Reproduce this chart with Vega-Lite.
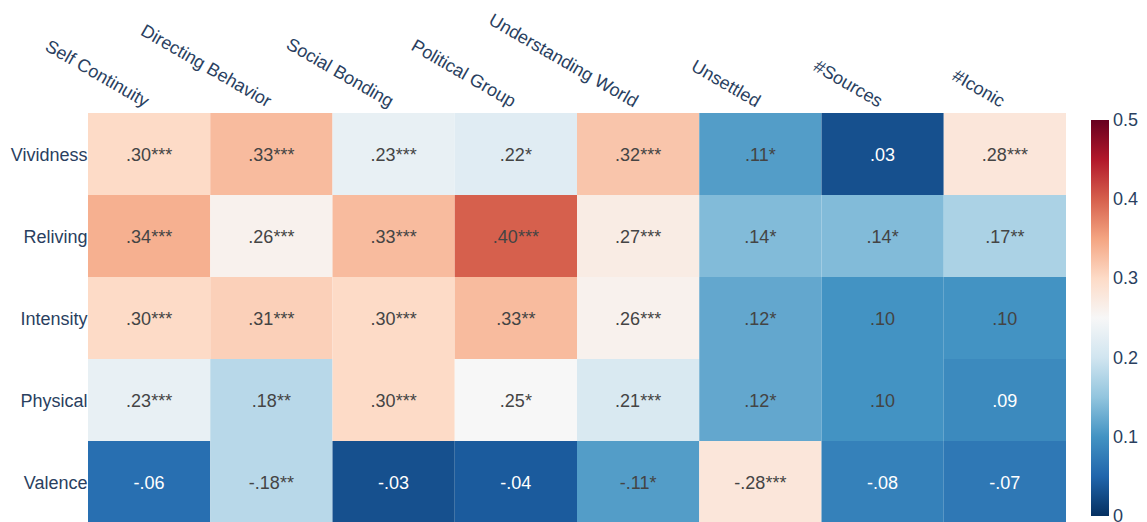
{
  "$schema": "https://vega.github.io/schema/vega-lite/v6.json",
  "autosize": "none",
  "width": 978,
  "height": 410,
  "padding": {"left": 88, "top": 113, "right": 81, "bottom": 0},
  "background": "white",
  "config": {
    "view": {"stroke": null},
    "font": "Liberation Sans"
  },
  "data": {
    "values": [
      {"row": "Vividness", "col": "Self Continuity", "r": 0.30, "strength": 0.30, "label": ".30***"},
      {"row": "Vividness", "col": "Directing Behavior", "r": 0.33, "strength": 0.33, "label": ".33***"},
      {"row": "Vividness", "col": "Social Bonding", "r": 0.23, "strength": 0.23, "label": ".23***"},
      {"row": "Vividness", "col": "Political Group", "r": 0.22, "strength": 0.22, "label": ".22*"},
      {"row": "Vividness", "col": "Understanding World", "r": 0.32, "strength": 0.32, "label": ".32***"},
      {"row": "Vividness", "col": "Unsettled", "r": 0.11, "strength": 0.11, "label": ".11*"},
      {"row": "Vividness", "col": "#Sources", "r": 0.03, "strength": 0.03, "label": ".03"},
      {"row": "Vividness", "col": "#Iconic", "r": 0.28, "strength": 0.28, "label": ".28***"},

      {"row": "Reliving", "col": "Self Continuity", "r": 0.34, "strength": 0.34, "label": ".34***"},
      {"row": "Reliving", "col": "Directing Behavior", "r": 0.26, "strength": 0.26, "label": ".26***"},
      {"row": "Reliving", "col": "Social Bonding", "r": 0.33, "strength": 0.33, "label": ".33***"},
      {"row": "Reliving", "col": "Political Group", "r": 0.40, "strength": 0.40, "label": ".40***"},
      {"row": "Reliving", "col": "Understanding World", "r": 0.27, "strength": 0.27, "label": ".27***"},
      {"row": "Reliving", "col": "Unsettled", "r": 0.14, "strength": 0.14, "label": ".14*"},
      {"row": "Reliving", "col": "#Sources", "r": 0.14, "strength": 0.14, "label": ".14*"},
      {"row": "Reliving", "col": "#Iconic", "r": 0.17, "strength": 0.17, "label": ".17**"},

      {"row": "Intensity", "col": "Self Continuity", "r": 0.30, "strength": 0.30, "label": ".30***"},
      {"row": "Intensity", "col": "Directing Behavior", "r": 0.31, "strength": 0.31, "label": ".31***"},
      {"row": "Intensity", "col": "Social Bonding", "r": 0.30, "strength": 0.30, "label": ".30***"},
      {"row": "Intensity", "col": "Political Group", "r": 0.33, "strength": 0.33, "label": ".33**"},
      {"row": "Intensity", "col": "Understanding World", "r": 0.26, "strength": 0.26, "label": ".26***"},
      {"row": "Intensity", "col": "Unsettled", "r": 0.12, "strength": 0.12, "label": ".12*"},
      {"row": "Intensity", "col": "#Sources", "r": 0.10, "strength": 0.10, "label": ".10"},
      {"row": "Intensity", "col": "#Iconic", "r": 0.10, "strength": 0.10, "label": ".10"},

      {"row": "Physical", "col": "Self Continuity", "r": 0.23, "strength": 0.23, "label": ".23***"},
      {"row": "Physical", "col": "Directing Behavior", "r": 0.18, "strength": 0.18, "label": ".18**"},
      {"row": "Physical", "col": "Social Bonding", "r": 0.30, "strength": 0.30, "label": ".30***"},
      {"row": "Physical", "col": "Political Group", "r": 0.25, "strength": 0.25, "label": ".25*"},
      {"row": "Physical", "col": "Understanding World", "r": 0.21, "strength": 0.21, "label": ".21***"},
      {"row": "Physical", "col": "Unsettled", "r": 0.12, "strength": 0.12, "label": ".12*"},
      {"row": "Physical", "col": "#Sources", "r": 0.10, "strength": 0.10, "label": ".10"},
      {"row": "Physical", "col": "#Iconic", "r": 0.09, "strength": 0.09, "label": ".09"},

      {"row": "Valence", "col": "Self Continuity", "r": -0.06, "strength": 0.06, "label": "-.06"},
      {"row": "Valence", "col": "Directing Behavior", "r": -0.18, "strength": 0.18, "label": "-.18**"},
      {"row": "Valence", "col": "Social Bonding", "r": -0.03, "strength": 0.03, "label": "-.03"},
      {"row": "Valence", "col": "Political Group", "r": -0.04, "strength": 0.04, "label": "-.04"},
      {"row": "Valence", "col": "Understanding World", "r": -0.11, "strength": 0.11, "label": "-.11*"},
      {"row": "Valence", "col": "Unsettled", "r": -0.28, "strength": 0.28, "label": "-.28***"},
      {"row": "Valence", "col": "#Sources", "r": -0.08, "strength": 0.08, "label": "-.08"},
      {"row": "Valence", "col": "#Iconic", "r": -0.07, "strength": 0.07, "label": "-.07"}
    ]
  },
  "encoding": {
    "x": {
      "field": "col",
      "type": "nominal",
      "sort": ["Self Continuity", "Directing Behavior", "Social Bonding", "Political Group", "Understanding World", "Unsettled", "#Sources", "#Iconic"],
      "scale": {"paddingInner": 0, "paddingOuter": 0},
      "axis": {
        "orient": "top",
        "title": null,
        "domain": false,
        "ticks": false,
        "labelAngle": 30,
        "labelAlign": "right",
        "labelBaseline": "middle",
        "labelPadding": 10,
        "labelOffset": -2,
        "labelFontSize": 18,
        "labelColor": "#2a3f5f",
        "labelFont": "Liberation Sans"
      }
    },
    "y": {
      "field": "row",
      "type": "nominal",
      "sort": ["Vividness", "Reliving", "Intensity", "Physical", "Valence"],
      "scale": {"paddingInner": 0, "paddingOuter": 0},
      "axis": {
        "title": null,
        "domain": false,
        "ticks": false,
        "labelPadding": 1,
        "labelOffset": 2,
        "labelFontSize": 18,
        "labelColor": "#2a3f5f",
        "labelFont": "Liberation Sans"
      }
    }
  },
  "layer": [
    {
      "mark": {"type": "rect", "strokeWidth": 0},
      "encoding": {
        "color": {
          "field": "strength",
          "type": "quantitative",
          "scale": {
            "domain": [0, 0.05, 0.1, 0.15, 0.2, 0.25, 0.3, 0.35, 0.4, 0.45, 0.5],
            "range": ["#053061", "#2166ac", "#4393c3", "#92c5de", "#d1e5f0", "#f7f7f7", "#fddbc7", "#f4a582", "#d6604d", "#b2182b", "#67001f"],
            "interpolate": "rgb"
          },
          "legend": {
            "title": null,
            "orient": "none",
            "direction": "vertical",
            "legendX": 1003,
            "legendY": 7,
            "gradientLength": 396,
            "gradientThickness": 18,
            "gradientStrokeWidth": 0,
            "values": [0, 0.1, 0.2, 0.3, 0.4, 0.5],
            "format": ".1~f",
            "labelFontSize": 18,
            "labelColor": "#2a3f5f",
            "labelFont": "Liberation Sans",
            "labelOffset": 4,
            "encode": {
              "labels": {
                "update": {
                  "baseline": {"value": "middle"},
                  "dy": {"value": 1}
                }
              }
            }
          }
        }
      }
    },
    {
      "mark": {"type": "text", "fontSize": 18, "font": "Liberation Sans", "dy": 2},
      "encoding": {
        "text": {"field": "label", "type": "nominal"},
        "color": {
          "condition": {"test": "datum.strength < 0.095", "value": "white"},
          "value": "#444444"
        }
      }
    }
  ]
}
